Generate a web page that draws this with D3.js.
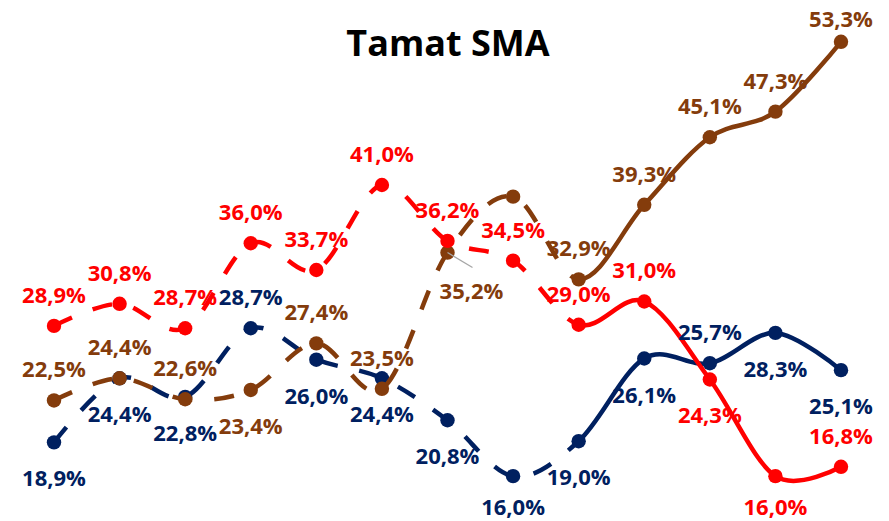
<!DOCTYPE html>
<html>
<head>
<meta charset="utf-8">
<script src="https://cdn.jsdelivr.net/npm/d3@7"></script>
<style>
  html, body { margin: 0; padding: 0; background: #ffffff; }
  svg { display: block; }
</style>
</head>
<body>
<div id="chart"></div>
<script>
// ---- data ----
const title = "Tamat SMA";
const categories = ["P1","P2","P3","P4","P5","P6","P7","P8","P9","P10","P11","P12","P13"];
const redValues   = [28.9, 30.8, 28.7, 36.0, 33.7, 41.0, 36.2, 34.5, 29.0, 31.0, 24.3, 16.0, 16.8];
const brownValues = [22.5, 24.4, 22.6, 23.4, 27.4, 23.5, 35.2, 40.0, 32.9, 39.3, 45.1, 47.3, 53.3];
const navyValues  = [18.9, 24.4, 22.8, 28.7, 26.0, 24.4, 20.8, 16.0, 19.0, 26.1, 25.7, 28.3, 25.1];
// label placement: a = above, b = below, r = below-right with leader, n = none
const redLabelPos   = ["a","a","a","a","a","a","a","a","a","a","b","b","a"];
const brownLabelPos = ["a","a","a","b","a","a","r","n","a","a","a","a","a"];
const navyLabelPos  = ["b","b","b","a","b","b","b","b","b","b","a","b","b"];
const dashedUntil = 8; // index where the solid part starts

const W = 889, H = 521;
const svg = d3.select("#chart").append("svg").attr("width", W).attr("height", H);
svg.append("rect").attr("width", W).attr("height", H).attr("fill", "#ffffff");

const x = d3.scalePoint().domain(categories).range([54, 841]);
const y = d3.scaleLinear().domain([10, 55]).range([546, 22]);

const series = [
  { values: navyValues,  color: "#002060", pos: navyLabelPos },
  { values: brownValues, color: "#843C0C", pos: brownLabelPos },
  { values: redValues,   color: "#FF0000", pos: redLabelPos }
];

const splitX = x(categories[dashedUntil]);
const defs = svg.append("defs");
defs.append("clipPath").attr("id", "clipDash")
  .append("rect").attr("x", 0).attr("y", 0).attr("width", splitX).attr("height", H);
defs.append("clipPath").attr("id", "clipSolid")
  .append("rect").attr("x", splitX).attr("y", 0).attr("width", W - splitX).attr("height", H);

const line = d3.line()
  .x((d, i) => x(categories[i]))
  .y(d => y(d))
  .curve(d3.curveCardinal.tension(0));

const fmt = v => d3.format(".1f")(v).replace(".", ",") + "%";

const gLines = svg.append("g");
series.forEach(s => {
  const g = gLines.append("g");
  g.append("path").attr("d", line(s.values))
    .attr("fill", "none").attr("stroke", s.color).attr("stroke-width", 4.5)
    .attr("stroke-dasharray", "20,22").attr("clip-path", "url(#clipDash)");
  g.append("path").attr("d", line(s.values))
    .attr("fill", "none").attr("stroke", s.color).attr("stroke-width", 4.5)
    .attr("stroke-linecap", "round").attr("stroke-linejoin", "round")
    .attr("clip-path", "url(#clipSolid)");
  g.selectAll("circle").data(s.values).join("circle")
    .attr("cx", (d, i) => x(categories[i]))
    .attr("cy", d => y(d))
    .attr("r", 7.2)
    .attr("fill", s.color);
});

// leader lines
const gLabels = svg.append("g");
series.forEach(s => {
  s.values.forEach((v, i) => {
    if (s.pos[i] === "r") {
      gLabels.append("line")
        .attr("x1", x(categories[i])).attr("y1", y(v))
        .attr("x2", x(categories[i]) + 25).attr("y2", y(v) + 15)
        .attr("stroke", "#A6A6A6").attr("stroke-width", 1.3);
    }
  });
});

series.forEach(s => {
  s.values.forEach((v, i) => {
    const p = s.pos[i];
    if (p === "n") return;
    let tx = x(categories[i]), ty;
    if (p === "a") ty = y(v) - 23;
    else if (p === "b") ty = y(v) + 44;
    else { tx += 24; ty = y(v) + 46; }
    ty = Math.max(27, Math.min(515, ty)); // keep labels inside the chart area
    gLabels.append("text")
      .attr("x", tx).attr("y", ty)
      .attr("text-anchor", "middle")
      .attr("font-family", "'Open Sans', sans-serif")
      .attr("font-weight", 700)
      .attr("font-size", 22)
      .attr("fill", s.color)
      .text(fmt(v));
  });
});

svg.append("text")
  .attr("x", 448).attr("y", 56)
  .attr("text-anchor", "middle")
  .attr("font-family", "'Open Sans', sans-serif")
  .attr("font-weight", 700)
  .attr("font-size", 36)
  .attr("fill", "#000000")
  .text(title);
</script>
</body>
</html>
